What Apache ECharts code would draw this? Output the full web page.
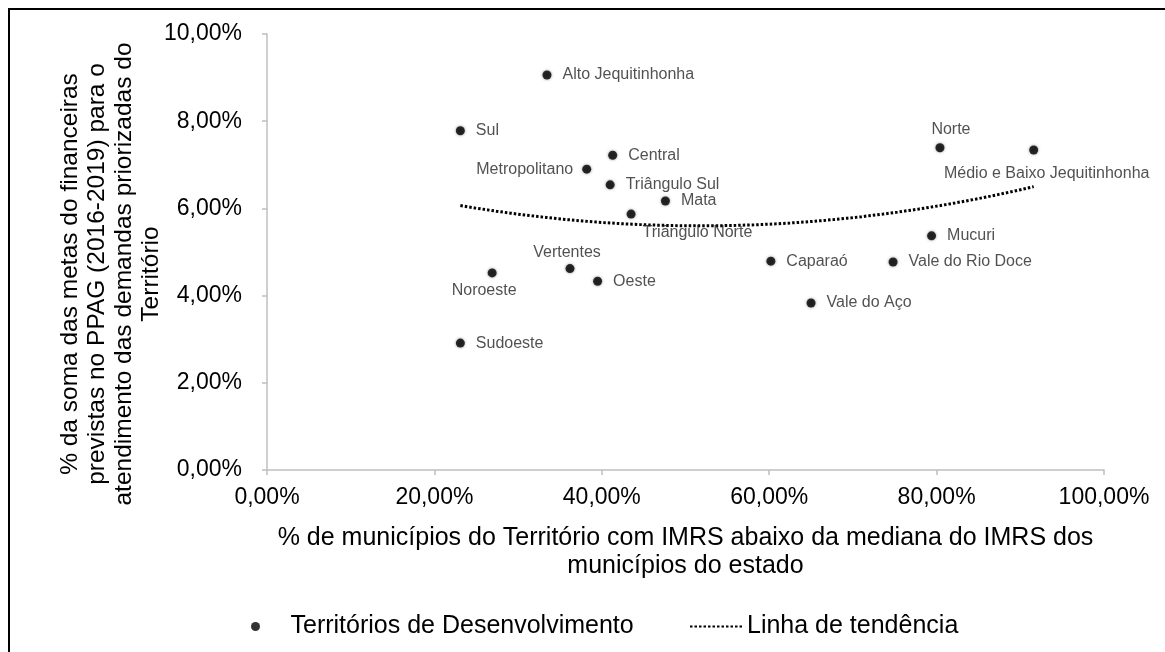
<!DOCTYPE html>
<html>
<head>
<meta charset="utf-8">
<script src="https://cdn.jsdelivr.net/npm/echarts@6/dist/echarts.min.js"></script>
<style>
  html, body { margin: 0; padding: 0; background: #fff; }
  #chart { width: 1165px; height: 652px; }
</style>
</head>
<body>
<div id="chart"></div>
<script>
// territórios (x = % municípios abaixo da mediana IMRS, y = % metas financeiras PPAG)
var territorios = ['Alto Jequitinhonha', 'Sul', 'Central', 'Metropolitano', 'Triângulo Sul', 'Mata',
  'Triângulo Norte', 'Norte', 'Médio e Baixo Jequitinhonha', 'Mucuri', 'Vale do Rio Doce', 'Caparaó',
  'Vale do Aço', 'Vertentes', 'Oeste', 'Noroeste', 'Sudoeste'];
var pctMunicipios = [33.45, 23.1, 41.3, 38.2, 41.0, 47.6, 43.5, 80.4, 91.6, 79.4, 74.8, 60.2, 65.0, 36.2, 39.5, 26.9, 23.1];
var pctMetas = [9.06, 7.78, 7.22, 6.90, 6.54, 6.17, 5.87, 7.39, 7.34, 5.37, 4.77, 4.79, 3.83, 4.62, 4.33, 4.52, 2.91];
var xTicks = [0, 20, 40, 60, 80, 100];
var yTicks = [0, 2, 4, 6, 8, 10];

// onde fica o rótulo de cada ponto
var labelPos = {
  'Metropolitano': { position: 'left', distance: 9 },
  'Triângulo Norte': { position: 'right', distance: 11, offset: [-4, 19] },
  'Norte': { position: 'top', distance: 6, offset: [11, 0] },
  'Médio e Baixo Jequitinhonha': { position: 'bottom', distance: 11, offset: [13, 0] },
  'Vertentes': { position: 'top', distance: 3, offset: [-3, 0] },
  'Noroeste': { position: 'bottom', distance: 5, offset: [-8, 0] }
};

var font = 'Liberation Sans, Arial, sans-serif';

function fmt(v) {
  return v.toFixed(2).replace('.', ',') + '%';
}

var pontos = [];
for (var i = 0; i < territorios.length; i++) {
  var lp = labelPos[territorios[i]] || { position: 'right', distance: 11 };
  pontos.push({
    name: territorios[i],
    value: [pctMunicipios[i], pctMetas[i]],
    label: lp
  });
}

// linha de tendência polinomial (ordem 2), mínimos quadrados como no Excel
function polyFit(xs, ys) {
  var n = xs.length, s = [0, 0, 0, 0, 0], t = [0, 0, 0];
  for (var i = 0; i < n; i++) {
    var x = xs[i], p = 1;
    for (var k = 0; k < 5; k++) { s[k] += p; if (k < 3) t[k] += p * ys[i]; p *= x; }
  }
  var m = [[s[0], s[1], s[2], t[0]], [s[1], s[2], s[3], t[1]], [s[2], s[3], s[4], t[2]]];
  for (var c = 0; c < 3; c++) {
    for (var r = c + 1; r < 3; r++) {
      var f = m[r][c] / m[c][c];
      for (var k = c; k < 4; k++) m[r][k] -= f * m[c][k];
    }
  }
  var b = [0, 0, 0];
  for (var r = 2; r >= 0; r--) {
    var acc = m[r][3];
    for (var k = r + 1; k < 3; k++) acc -= m[r][k] * b[k];
    b[r] = acc / m[r][r];
  }
  return b;
}
var coef = polyFit(pctMunicipios, pctMetas);
var xMin = Math.min.apply(null, pctMunicipios), xMax = Math.max.apply(null, pctMunicipios);
var tendencia = [];
for (var j = 0; j <= 80; j++) {
  var xx = xMin + (xMax - xMin) * j / 80;
  tendencia.push([xx, coef[0] + coef[1] * xx + coef[2] * xx * xx]);
}

var chart = echarts.init(document.getElementById('chart'), null, { renderer: 'canvas' });
chart.setOption({
  animation: false,
  backgroundColor: '#fff',
  textStyle: { fontFamily: font },
  graphic: [{
    type: 'rect',
    shape: { x: 9, y: 9, width: 1200, height: 700 },
    style: { fill: 'none', stroke: '#000', lineWidth: 2 },
    silent: true
  }],
  grid: { left: 267, right: 61, top: 34, bottom: 182, containLabel: false, outerBoundsMode: 'none' },
  legend: [{
    left: 246, top: 609,
    itemWidth: 60, itemHeight: 9,
    data: [{ name: 'Territórios de Desenvolvimento', icon: 'circle' }],
    textStyle: { fontFamily: font, fontSize: 25, color: '#000' }
  }, {
    left: 684, top: 609,
    itemWidth: 52, itemHeight: 14,
    data: ['Linha de tendência'],
    itemStyle: { opacity: 0 },
    textStyle: { fontFamily: font, fontSize: 25, color: '#000' }
  }],
  xAxis: {
    type: 'value', min: xTicks[0], max: xTicks[xTicks.length - 1], interval: 20,
    name: '% de municípios do Território com IMRS abaixo da mediana do IMRS dos\nmunicípios do estado',
    nameLocation: 'middle', nameGap: 54, nameMoveOverlap: false,
    nameTextStyle: { fontFamily: font, fontSize: 25, lineHeight: 28, color: '#000' },
    axisLine: { lineStyle: { color: '#bfbfbf', width: 1.5 } },
    axisTick: { show: true, length: 5, lineStyle: { color: '#bfbfbf', width: 1.5 } },
    axisLabel: { margin: 16, fontSize: 23, color: '#000', formatter: fmt },
    splitLine: { show: false }
  },
  yAxis: {
    type: 'value', min: yTicks[0], max: yTicks[yTicks.length - 1], interval: 2,
    name: '% da soma das metas do financeiras\nprevistas no PPAG (2016-2019) para o\natendimento das demandas priorizadas do\nTerritório',
    nameLocation: 'middle', nameGap: 102, nameRotate: 90, nameMoveOverlap: false,
    nameTextStyle: { fontFamily: font, fontSize: 24.5, lineHeight: 27, color: '#000', padding: [0, 44, 0, 0] },
    axisLine: { show: true, lineStyle: { color: '#bfbfbf', width: 1.5 } },
    axisTick: { show: true, length: 5, lineStyle: { color: '#bfbfbf', width: 1.5 } },
    axisLabel: { margin: 25, fontSize: 23, color: '#000', formatter: fmt },
    splitLine: { show: false }
  },
  series: [{
    name: 'Territórios de Desenvolvimento',
    type: 'scatter',
    data: pontos,
    symbolSize: 9,
    itemStyle: { color: '#000', shadowBlur: 3, shadowColor: 'rgba(0,0,0,0.5)' },
    label: {
      show: true,
      formatter: '{b}',
      fontFamily: font,
      fontSize: 16,
      color: '#262626'
    },
    z: 3
  }, {
    name: 'Linha de tendência',
    type: 'line',
    data: tendencia,
    showSymbol: false,
    symbol: 'none',
    smooth: false,
    lineStyle: { color: '#000', width: 3, type: [2.5, 2] },
    itemStyle: { color: '#000' },
    z: 2
  }]
});
</script>
</body>
</html>
